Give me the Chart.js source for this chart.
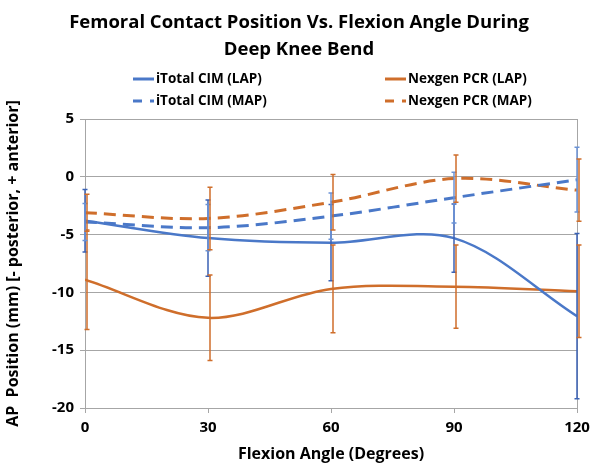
<!DOCTYPE html>
<html>
<head>
<meta charset="utf-8">
<script src="https://cdn.jsdelivr.net/npm/chart.js@4.4.0/dist/chart.umd.min.js"></script>
<style>
  body { margin: 0; background: #fff; }
  canvas { display: block; }
</style>
</head>
<body>
<canvas id="my-chart" width="598" height="464"></canvas>
<script>
// flexion angles (degrees)
const angles = [0, 30, 60, 90, 120];
const xTicks = [0, 30, 60, 90, 120];
const yTicks = [5, 0, -5, -10, -15, -20];

// AP position (mm)
const itotalLap = [-3.8, -5.3, -5.7, -5.3, -12.05];
const itotalLapErr = [2.7, 3.3, 3.3, 2.95, 7.15];
const itotalMap = [-3.9, -4.4, -3.4, -1.8, -0.25];
const itotalMapErr = [1.6, 2.0, 2.0, 2.2, 2.8];
const nexgenLap = [-8.9, -12.2, -9.7, -9.5, -9.9];
const nexgenLapErr = [4.3, 3.7, 3.8, 3.6, 4.0];
const nexgenMap = [-3.1, -3.6, -2.2, -0.15, -1.15];
const nexgenMapErr = [1.6, 2.7, 2.4, 2.05, 2.7];

const blue = "#4a78c8";
const orange = "#cf6e2b";
const font = "'Open Sans', Lato, sans-serif";

function pts(ys) {
  return angles.map((a, i) => ({ x: a, y: ys[i] }));
}

// vertical error bars with small caps
const errorBars = {
  id: "errorBars",
  afterDatasetsDraw(chart) {
    const ctx = chart.ctx;
    const yScale = chart.scales.y;
    const xScale = chart.scales.x;
    chart.data.datasets.forEach((ds) => {
      if (!ds.errors) return;
      ctx.save();
      ctx.strokeStyle = ds.errorColor;
      ctx.lineWidth = 1.5;
      ds.data.forEach((p, i) => {
        const e = ds.errors[i];
        const x = xScale.getPixelForValue(p.x) + ds.errorShift;
        const top = yScale.getPixelForValue(p.y + e);
        const bot = yScale.getPixelForValue(p.y - e);
        ctx.beginPath();
        ctx.moveTo(x, top);
        ctx.lineTo(x, bot);
        ctx.moveTo(x - 2.5, top);
        ctx.lineTo(x + 2.5, top);
        ctx.moveTo(x - 2.5, bot);
        ctx.lineTo(x + 2.5, bot);
        ctx.stroke();
      });
      ctx.restore();
    });
  },
};

// two-column legend like the original
const gridLegend = {
  id: "gridLegend",
  afterDraw(chart) {
    const ctx = chart.ctx;
    const cols = [133, 385];
    const rows = [79, 101];
    ctx.save();
    ctx.font = "bold 13.5px " + font;
    ctx.textBaseline = "middle";
    ctx.fillStyle = "#000";
    chart.data.datasets.forEach((ds) => {
      const x = cols[ds.legendCol];
      const y = rows[ds.legendRow];
      ctx.strokeStyle = ds.borderColor;
      ctx.lineWidth = 3;
      ctx.setLineDash(ds.borderDash && ds.borderDash.length ? [9, 8] : []);
      ctx.beginPath();
      ctx.moveTo(x, y);
      ctx.lineTo(x + 21, y);
      ctx.stroke();
      ctx.setLineDash([]);
      ctx.fillText(ds.label, x + 23, y);
    });
    ctx.restore();
  },
};

const ctx = document.getElementById("my-chart").getContext("2d");
const chart = new Chart(ctx, {
  type: "line",
  data: {
    datasets: [
      {
        label: "iTotal CIM (LAP)",
        data: pts(itotalLap),
        errors: itotalLapErr,
        errorColor: "#3b62b5",
        errorShift: 0,
        borderColor: blue,
        borderWidth: 2.5,
        legendCol: 0,
        legendRow: 0,
      },
      {
        label: "Nexgen PCR (LAP)",
        data: pts(nexgenLap),
        errors: nexgenLapErr,
        errorColor: orange,
        errorShift: 2,
        borderColor: orange,
        borderWidth: 2.5,
        legendCol: 1,
        legendRow: 0,
      },
      {
        label: "iTotal CIM (MAP)",
        data: pts(itotalMap),
        errors: itotalMapErr,
        errorColor: "#6b93d6",
        errorShift: 0,
        borderColor: blue,
        borderWidth: 3,
        borderDash: [12, 7],
        legendCol: 0,
        legendRow: 1,
      },
      {
        label: "Nexgen PCR (MAP)",
        data: pts(nexgenMap),
        errors: nexgenMapErr,
        errorColor: orange,
        errorShift: 2,
        borderColor: orange,
        borderWidth: 3,
        borderDash: [12, 7],
        legendCol: 1,
        legendRow: 1,
      },
    ],
  },
  options: {
    responsive: false,
    animation: false,
    layout: { padding: { left: 0, right: 0, top: 9, bottom: 0 } },
    elements: {
      point: { radius: 0 },
      line: { tension: 0.33, fill: false },
    },
    plugins: {
      legend: { display: false },
      tooltip: { enabled: false },
      title: {
        display: true,
        text: ["Femoral Contact Position Vs. Flexion Angle During", "Deep Knee Bend"],
        color: "#000",
        font: { family: font, size: 18.5, weight: "bold", lineHeight: 1.45 },
        padding: { top: 0, bottom: 56.4 },
      },
    },
    scales: {
      x: {
        type: "linear",
        min: 0,
        max: 120,
        afterBuildTicks: (s) => { s.ticks = xTicks.map((v) => ({ value: v })); },
        afterFit: (s) => { s.height = 56; },
        grid: { drawOnChartArea: false, drawTicks: true, tickLength: 5, color: "#a6a6a6" },
        border: { color: "#a6a6a6" },
        ticks: { color: "#000", padding: 6, font: { family: font, size: 15, weight: "bold" } },
        title: {
          display: true,
          text: "Flexion Angle (Degrees)",
          color: "#000",
          font: { family: font, size: 16, weight: "bold" },
          padding: { top: 0, bottom: 0 },
        },
      },
      y: {
        min: -20,
        max: 5,
        afterBuildTicks: (s) => { s.ticks = yTicks.map((v) => ({ value: v })); },
        afterFit: (s) => { s.width = 85; },
        grid: { color: "#a6a6a6", tickLength: 5 },
        border: { color: "#a6a6a6" },
        ticks: { color: "#000", padding: 6, font: { family: font, size: 15, weight: "bold" } },
        title: {
          display: true,
          text: "AP  Position (mm) [- posterior, + anterior]",
          color: "#000",
          font: { family: font, size: 16, weight: "bold" },
          padding: { bottom: 0 },
        },
      },
      // right edge of the plot frame
      yRight: {
        position: "right",
        min: -20,
        max: 5,
        afterFit: (s) => { s.width = 21; },
        grid: { display: false },
        border: { color: "#a6a6a6" },
        ticks: { display: false },
      },
    },
  },
  plugins: [errorBars, gridLegend],
});
</script>
</body>
</html>
